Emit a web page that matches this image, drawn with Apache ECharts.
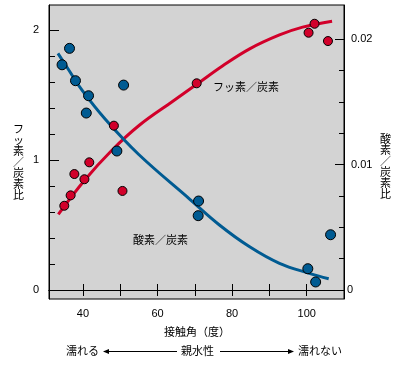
<!DOCTYPE html>
<html><head><meta charset="utf-8">
<script src="https://cdn.jsdelivr.net/npm/echarts@6/dist/echarts.min.js"></script>
<style>html,body{margin:0;padding:0;background:#fff}#c{width:402px;height:369px}</style>
</head><body><div id="c"></div>
<script>
// Fluorine / carbon ratio (left axis) vs contact angle
const fAngle = [35.0, 36.7, 37.7, 40.4, 41.7, 48.3, 50.6, 70.5, 100.5, 102.1, 105.7];
const fRatio = [0.648, 0.728, 0.892, 0.852, 0.982, 1.264, 0.762, 1.590, 1.979, 2.048, 1.915];
// Oxygen / carbon ratio (right axis) vs contact angle
const oAngle = [34.4, 36.4, 38.0, 40.9, 41.5, 49.1, 50.9, 70.9, 71.0, 100.3, 102.4, 106.4];
const oRatio = [0.01797, 0.01928, 0.01670, 0.01412, 0.01550, 0.01109, 0.01635, 0.00593, 0.00710, 0.00170, 0.00064, 0.00441];
// fitted curves
const fCurveX = [33.4, 40.5, 47.7, 55.2, 64.1, 70.5, 77.5, 84.7, 92.7, 98.9, 106.8];
const fCurveY = [0.582, 0.846, 1.073, 1.269, 1.452, 1.582, 1.725, 1.855, 1.962, 2.022, 2.068];
const oCurveX = [33.3, 36.2, 39.7, 46.0, 54.9, 68.6, 76.6, 84.7, 92.7, 100.7, 105.9];
const oCurveY = [0.01888, 0.01755, 0.01596, 0.01362, 0.01083, 0.00726, 0.00519, 0.00345, 0.00213, 0.00133, 0.00090];
// ticks
const xTicks = [40, 50, 60, 70, 80, 90, 100];
const xLabels = [40, 60, 80, 100];
const leftMinor = [0, 0.2, 0.4, 0.6, 0.8, 1, 1.2, 1.4, 1.6, 1.8, 2];
const leftMajor = [0, 1, 2];
const rightMinor = [0, 0.0025, 0.005, 0.0075, 0.01, 0.0125, 0.015, 0.0175, 0.02];
const rightMajor = [0, 0.01, 0.02];

const RED = '#d2002a', BLUE = '#005b92';
const JP = '"Noto Sans CJK JP", sans-serif';
const NUM = '"Liberation Sans", Arial, sans-serif';
const XMIN = 30.9, XMAX = 110;
const LMIN = -0.0692, LMAX = 2.1923;
const RMIN = -0.000718, RMAX = 0.02274;

const chart = echarts.init(document.getElementById('c'), null, {renderer: 'canvas'});
const zip = (a, b) => a.map((v, i) => [v, b[i]]);
const lineAx = {show: true, lineStyle: {color: '#000', width: 1}};
const noLine = {show: false};

chart.setOption({
  animation: false,
  grid: {left: 49, top: 5, width: 295, height: 294, show: true, backgroundColor: '#d3d3d3', borderColor: '#000', borderWidth: 1},
  xAxis: [
    {type: 'value', min: XMIN, max: XMAX, position: 'bottom', axisLine: lineAx, splitLine: {show: false},
     axisTick: {show: true, inside: true, length: 6, customValues: xTicks, lineStyle: {color: '#000'}},
     axisLabel: {show: true, customValues: xLabels, margin: 9, color: '#000', fontSize: 11, fontFamily: NUM}},
    {type: 'value', min: XMIN, max: XMAX, position: 'top', axisLine: lineAx, splitLine: {show: false},
     axisTick: {show: true, inside: true, length: 6, customValues: xTicks, lineStyle: {color: '#000'}},
     axisLabel: {show: false}}
  ],
  yAxis: [
    {type: 'value', min: LMIN, max: LMAX, position: 'left', axisLine: lineAx, splitLine: {show: false},
     axisTick: {show: true, inside: true, length: 6, customValues: leftMinor, lineStyle: {color: '#000'}},
     axisLabel: {show: true, customValues: leftMajor, margin: 10, color: '#000', fontSize: 11, fontFamily: NUM}},
    {type: 'value', min: RMIN, max: RMAX, position: 'right', axisLine: lineAx, splitLine: {show: false},
     axisTick: {show: true, inside: true, length: 5, customValues: rightMinor, lineStyle: {color: '#000'}},
     axisLabel: {show: true, customValues: [0.01, 0.02], margin: 7, color: '#000', fontSize: 11, fontFamily: NUM,
       formatter: v => v.toFixed(2)}},
    {type: 'value', min: LMIN, max: LMAX, position: 'left', axisLine: noLine, splitLine: {show: false},
     axisTick: {show: true, inside: true, length: 10, customValues: leftMajor, lineStyle: {color: '#000'}},
     axisLabel: {show: false}},
    {type: 'value', min: RMIN, max: RMAX, position: 'right', axisLine: noLine, splitLine: {show: false},
     axisTick: {show: true, inside: true, length: 9, customValues: rightMajor, lineStyle: {color: '#000'}},
     axisLabel: {show: true, customValues: [0], margin: 3, color: '#000', fontSize: 11, fontFamily: NUM,
       formatter: () => '0'}}
  ],
  series: [
    {type: 'line', xAxisIndex: 0, yAxisIndex: 0, data: zip(fCurveX, fCurveY), smooth: 0.4, showSymbol: false,
     lineStyle: {color: RED, width: 3}, z: 2, silent: true},
    {type: 'line', xAxisIndex: 0, yAxisIndex: 1, data: zip(oCurveX, oCurveY), smooth: 0.4, showSymbol: false,
     lineStyle: {color: BLUE, width: 3}, z: 2, silent: true},
    {type: 'scatter', xAxisIndex: 0, yAxisIndex: 0, data: zip(fAngle, fRatio), symbolSize: 9,
     itemStyle: {color: RED, borderColor: '#000', borderWidth: 1, opacity: 1}, z: 5},
    {type: 'scatter', xAxisIndex: 0, yAxisIndex: 1, data: zip(oAngle, oRatio), symbolSize: 10,
     itemStyle: {color: BLUE, borderColor: '#000', borderWidth: 1, opacity: 1}, z: 5}
  ],
  graphic: [
    {type: 'text', left: 13, top: 123, style: {text: 'フ\nッ\n素\n／\n炭\n素\n比', font: '11px ' + JP, lineHeight: 11, fill: '#000', align: 'center'}},
    {type: 'text', left: 380, top: 133, style: {text: '酸\n素\n／\n炭\n素\n比', font: '11px ' + JP, lineHeight: 11, fill: '#000', align: 'center'}},
    {type: 'text', left: 213, top: 81, style: {text: 'フッ素／炭素', font: '11px ' + JP, fill: '#000'}},
    {type: 'text', left: 133, top: 234, style: {text: '酸素／炭素', font: '11px ' + JP, fill: '#000'}},
    {type: 'text', left: 164, top: 326, style: {text: '接触角（度）', font: '11px ' + JP, fill: '#000'}},
    {type: 'text', left: 66, top: 345, style: {text: '濡れる', font: '11px ' + JP, fill: '#000'}},
    {type: 'text', left: 181, top: 345, style: {text: '親水性', font: '11px ' + JP, fill: '#000'}},
    {type: 'text', left: 298, top: 345, style: {text: '濡れない', font: '11px ' + JP, fill: '#000'}},
    {type: 'line', shape: {x1: 106, y1: 351.5, x2: 177, y2: 351.5}, style: {stroke: '#000', lineWidth: 1}},
    {type: 'polygon', shape: {points: [[103, 351.5], [109, 349], [109, 354]]}, style: {fill: '#000'}},
    {type: 'line', shape: {x1: 220, y1: 351.5, x2: 290, y2: 351.5}, style: {stroke: '#000', lineWidth: 1}},
    {type: 'polygon', shape: {points: [[294, 351.5], [288, 349], [288, 354]]}, style: {fill: '#000'}}
  ]
});
</script></body></html>
